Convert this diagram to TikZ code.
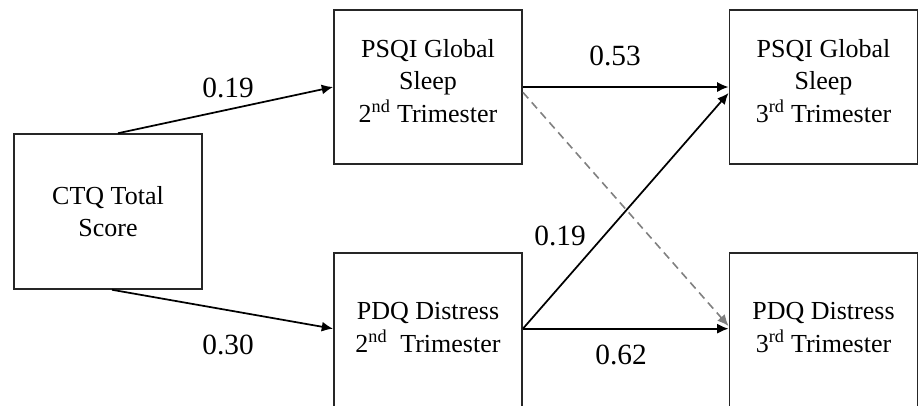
\documentclass[tikz,border=0pt]{standalone}
\usepackage{fontspec}
\setmainfont{Liberation Serif}
\usetikzlibrary{arrows.meta}
\begin{document}
\begin{tikzpicture}[x=0.75pt,y=-0.75pt,
  box/.style={draw=black!85,line width=1.4pt,minimum width=141pt,minimum height=116pt,inner sep=0pt,align=center,font=\fontsize{19.5}{24.5}\selectfont},
  path/.style={line width=1.3pt,-{Latex[length=8.5pt,width=7.5pt]}},
  dpath/.style={line width=1.2pt,draw=black!50,dash pattern=on 6pt off 4pt,-{Latex[length=8.5pt,width=7.5pt]}},
  num/.style={font=\fontsize{22}{24}\selectfont,inner sep=0pt}]
\useasboundingbox (0,0) rectangle (919,405);
\clip (0,0) rectangle (919,405);
\fill[white] (0,0) rectangle (919,405);
\node[box] (ctq) at (108,211.5) {CTQ Total\\Score};
\node[box] (p2) at (428,87) {PSQI Global\\Sleep\\2\textsuperscript{nd} Trimester\\[-15pt]};
\node[box] (d2) at (428,330) {PDQ Distress\\2\textsuperscript{nd}\ \ Trimester\\[-21pt]};
\node[box] (p3) at (823.5,87) {PSQI Global\\Sleep\\3\textsuperscript{rd} Trimester\\[-15pt]};
\node[box] (d3) at (823.5,330) {PDQ Distress\\3\textsuperscript{rd} Trimester\\[-21pt]};
\draw[path] ([xshift=7.5pt]ctq.north) -- (p2.west);
\draw[path] ([xshift=3pt]ctq.south) -- ([yshift=1pt]d2.west);
\draw[path] (p2.east) -- (p3.west);
\draw[dpath] ([yshift=-4pt]p2.east) -- ([yshift=3pt]d3.west);
\draw[path] ([yshift=1pt]d2.east) -- ([yshift=-4.5pt]p3.west);
\draw[path] ([yshift=1pt]d2.east) -- ([yshift=1pt]d3.west);
\node[num] (l1) at (228,88) {0.19};
\node[num] (l2) at (228,345) {0.30};
\node[num] (l3) at (615,56) {0.53};
\node[num] (l4) at (560,236) {0.19};
\node[num] (l5) at (621,355) {0.62};
\end{tikzpicture}
\end{document}
